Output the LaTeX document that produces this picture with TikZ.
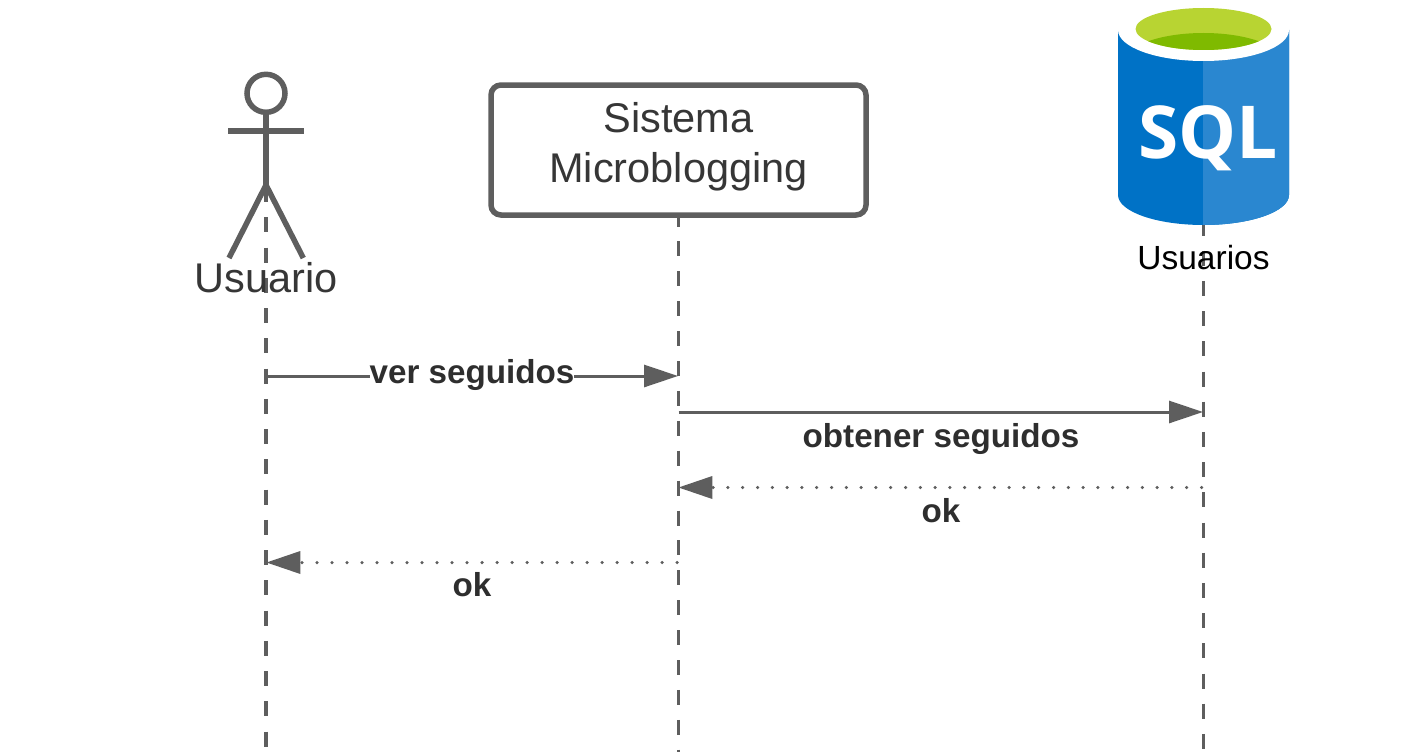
\documentclass[tikz,border=0pt]{standalone}
\usepackage{fontspec}
\setmainfont{Liberation Sans}
\newfontfamily\sqlfont{Open Sans}
\usetikzlibrary{arrows.meta,positioning}
\definecolor{linegray}{HTML}{5E5E5E}
\definecolor{textgray}{HTML}{363636}
\definecolor{labelgray}{HTML}{2E2E2E}
\definecolor{sqlleft}{HTML}{0072C6}
\definecolor{sqlright}{HTML}{2A87D0}
\definecolor{sqlrim}{HTML}{B8D432}
\definecolor{sqlinner}{HTML}{7FBA00}
\newcommand{\figw}{5.5pt}
\tikzset{
  lifeline/.style = {draw=linegray, line width=3.3pt, dash pattern=on 15pt off #1},
  callarrow/.style = {draw=linegray, line width=3pt, -{Triangle[length=34pt,width=22pt]}},
  backarrow/.style = {draw=linegray, line width=3.5pt, line cap=round, dash pattern=on 0pt off #1, -{Triangle[length=34pt,width=22pt]}},
  msglabel/.style = {text=labelgray, font=\fontsize{33.2}{40}\selectfont\bfseries, inner sep=0pt},
  figline/.style = {draw=linegray, line width=\figw},
  bigtext/.style = {text=textgray, inner sep=0pt, align=center, font=\fontsize{41.5}{50}\selectfont},
}
\begin{document}
\begin{tikzpicture}[x=1pt,y=-1pt]
  \useasboundingbox (0,0) rectangle (1408,752);

  % lifelines, under the shapes
  \coordinate (dbtop) at (1203.3,220.5);
  \coordinate (dbend) at (1203.3,752);
  \coordinate (systop) at (678.3,211.5);
  \coordinate (sysend) at (678.3,752);
  \coordinate (actortop) at (266,187);
  \coordinate (actorend) at (266,752);
  \draw[lifeline=15.2pt] (dbtop) -- (dbend);
  \draw[lifeline=14.9pt] (systop) -- (sysend);
  \draw[lifeline=15.25pt, line width=4pt] (actortop) -- (actorend);

  % database
  \fill[sqlleft] (1118,30) -- (1118,195) arc[start angle=180,end angle=360,x radius=85.5,y radius=-30] -- (1289,30) -- cycle;
  \fill[sqlright] (1203,30) -- (1203,225) arc[start angle=270,end angle=360,x radius=86,y radius=-30] -- (1289,30) -- cycle;
  \fill[white] (1203.5,30) ellipse[x radius=85.5,y radius=31];
  \fill[sqlrim] (1203.5,29) ellipse[x radius=68,y radius=21];
  \begin{scope}
    \clip (1203.5,29) ellipse[x radius=68,y radius=21];
    \fill[sqlinner] (1203.5,61) ellipse[x radius=78,y radius=28];
  \end{scope}
  \node[text=white, inner sep=0pt, font=\fontsize{73}{73}\selectfont\sqlfont\bfseries] (sqllogo) at (1208,138) {SQL};
  \node[text=black, inner sep=0pt, font=\fontsize{33.5}{40}\selectfont] (dbname) at (1203.5,258) {Usuarios};

  % actor
  \node[circle, figline, minimum size=38pt, inner sep=0pt] (head) at (266,93.3) {};
  \coordinate (hip) at (266,185);
  \coordinate (armleft) at (228.3,131);
  \coordinate (armright) at (304,131);
  \coordinate (footleft) at (229,258);
  \coordinate (footright) at (303.3,258);
  \draw[figline] (head) -- (hip);
  \draw[figline] (armleft) -- (armright);
  \draw[figline] (footleft) -- (hip) -- (footright);
  \node[bigtext] (actorname) at (266,278) {Usuario};

  % system
  \node[draw=linegray, fill=white, line width=\figw, rounded corners=10pt, minimum width=375pt, minimum height=130pt] (sistema) at (678.5,150) {};
  \node[bigtext] (sistematext) at (678.5,147) {Sistema\\Microblogging};

  % messages
  \coordinate (a1) at (267,376);
  \coordinate (s1) at (678,376);
  \coordinate (s2) at (678.5,412);
  \coordinate (d2) at (1203,412);
  \coordinate (d3) at (1201.5,487.5);
  \coordinate (s3) at (678.3,487.5);
  \coordinate (s4) at (677,562.5);
  \coordinate (a4) at (266.3,562.5);

  \draw[callarrow] (a1) -- (s1);
  \node[msglabel, fill=white] (versegui) at (472,375) {ver seguidos};
  \draw[callarrow] (s2) -- (d2);
  \node[msglabel] (obtener) at (941,439) {obtener seguidos};
  \draw[backarrow=14.8pt] (d3) -- (s3);
  \node[msglabel] (okone) at (941,511) {ok};
  \draw[backarrow=15pt] (s4) -- (a4);
  \node[msglabel] (oktwo) at (472,585) {ok};
\end{tikzpicture}
\end{document}
